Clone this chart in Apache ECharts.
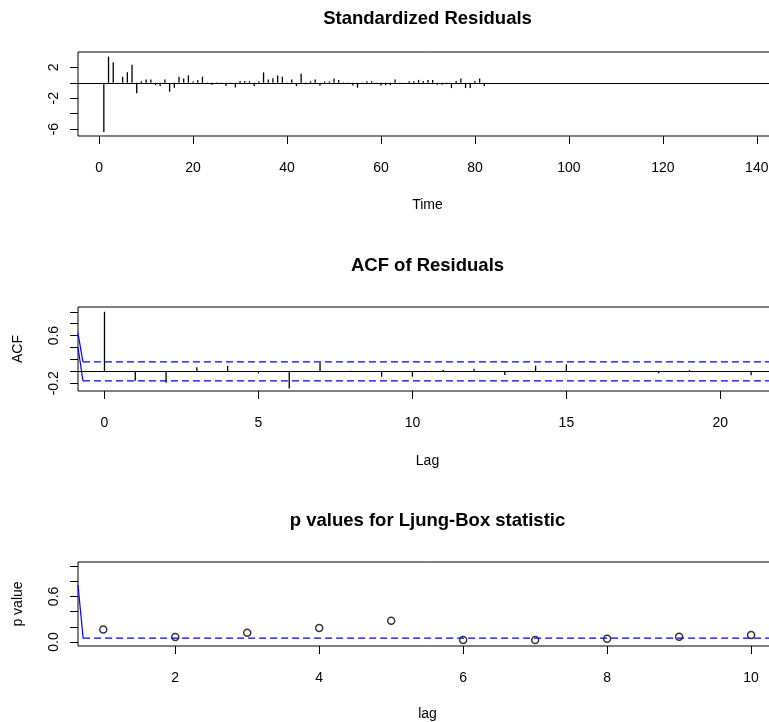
<!DOCTYPE html>
<html>
<head>
<meta charset="utf-8">
<script src="https://cdn.jsdelivr.net/npm/echarts@6/dist/echarts.min.js"></script>
<style>
  html, body { margin: 0; padding: 0; background: #fff; overflow: hidden; }
  #chart { width: 800px; height: 722px; }
</style>
</head>
<body>
<div id="chart"></div>
<script>
// Standardized residuals of the fitted model
const residTime = [1,2,3,4,5,6,7,8,9,10,11,12,13,14,15,16,17,18,19,20,21,22,23,24,25,26,27,28,29,30,
  31,32,33,34,35,36,37,38,39,40,41,42,43,44,45,46,47,48,49,50,51,52,53,54,55,56,57,58,59,60,
  61,62,63,64,65,66,67,68,69,70,71,72,73,74,75,76,77,78,79,80,81,82];
const residValues = [-6.38,3.4,2.68,0.05,0.77,1.36,2.34,-1.36,0.2,0.43,0.43,-0.3,-0.4,0.43,-1.15,-0.64,0.8,0.55,0.98,0.17,
  0.38,0.8,0.05,-0.25,0.05,-0.05,-0.42,0.05,-0.6,0.25,0.25,0.2,-0.42,0.2,1.36,0.43,0.6,0.94,0.8,0.05,
  0.43,-0.42,1.19,-0.2,0.2,0.43,-0.38,0.17,0.17,0.55,0.38,0.05,-0.05,-0.34,-0.64,0.05,0.2,0.2,0.05,-0.34,
  -0.3,-0.3,0.43,0.05,-0.05,0.2,0.2,0.38,0.25,0.38,0.38,-0.25,-0.25,0.05,-0.68,0.25,0.55,-0.68,-0.68,0.25,
  0.55,-0.42];

// Autocorrelation of the residuals
const acfLags = [0,1,2,3,4,5,6,7,8,9,10,11,12,13,14,15,16,17,18,19,20,21];
const acfValues = [1.0,-0.156,-0.19,0.067,0.089,-0.034,-0.29,0.15,0.01,-0.09,-0.09,0.022,0.045,-0.06,0.095,0.117,0.005,-0.005,-0.034,0.022,0.005,-0.067];
const acfBound = 0.16;

// Ljung-Box p values
const lbLags = [1,2,3,4,5,6,7,8,9,10];
const lbPValues = [0.163,0.066,0.123,0.185,0.281,0.026,0.026,0.044,0.07,0.092];
const lbLevel = 0.05;

// Tick and label positions
const timeTicks = [0,20,40,60,80,100,120,140];
const residYTicks = [-6,-4,-2,0,2];
const residYLabels = [-6,-2,2];
const acfXTicks = [0,5,10,15,20];
const acfYTicks = [-0.2,0,0.2,0.4,0.6,0.8,1.0];
const acfYLabels = [-0.2,0.6];
const lbXTicks = [2,4,6,8,10];
const lbYTicks = [0,0.2,0.4,0.6,0.8,1.0];
const lbYLabels = [0,0.6];

// Axis ranges
const timeRange = [-4.5, 144.3];
const residRange = [-6.9, 4.0];
const lagRange = [-0.86, 21.84];
const acfRange = [-0.33, 1.08];
const lbLagRange = [0.649, 10.36];
const pRange = [-0.053, 1.053];

// Blue lead-in strokes at the left edge of the bound lines
const acfLeadX = [-0.86, -0.70];
const acfLeadUpperY = [0.64, acfBound];
const acfLeadLowerY = [0.40, -acfBound];
const lbLeadX = [0.649, 0.72];
const lbLeadY = [0.75, lbLevel];

const FONT = '"Liberation Sans", Arial, sans-serif';
const BLUE = '#0000ff';
const PLOT_LEFT = 78, PLOT_RIGHT_EDGE = 777, CONTAINER_W = 800;
const centerX = (PLOT_LEFT + PLOT_RIGHT_EDGE) / 2;

function spikeItem(params, api) {
  const x = api.value(0), y = api.value(1);
  const p0 = api.coord([x, 0]);
  const p1 = api.coord([x, y]);
  return {
    type: 'line',
    shape: { x1: p0[0], y1: p0[1], x2: p1[0], y2: p1[1] },
    style: { stroke: '#000', lineWidth: 1.3 }
  };
}

function xAxisCfg(gridIndex, range, ticks, fmt) {
  return {
    gridIndex, type: 'value', position: 'bottom', min: range[0], max: range[1],
    axisLine: { show: false, onZero: false },
    splitLine: { show: false },
    axisTick: { show: true, customValues: ticks, length: 8, lineStyle: { color: '#000', width: 1 } },
    axisLabel: { show: true, customValues: ticks, margin: 25, fontSize: 14, color: '#000', fontFamily: FONT,
      formatter: fmt || (v => String(v)) }
  };
}
function yAxisCfg(gridIndex, range, ticks, labels, fmt) {
  return {
    gridIndex, type: 'value', position: 'left', min: range[0], max: range[1],
    axisLine: { show: false, onZero: false },
    splitLine: { show: false },
    axisTick: { show: true, customValues: ticks, length: 8, lineStyle: { color: '#000', width: 1 } },
    axisLabel: { show: true, customValues: labels, rotate: 90, margin: 17, fontSize: 14, color: '#000', fontFamily: FONT,
      formatter: fmt || (v => String(v)) }
  };
}

const gridBase = { left: PLOT_LEFT, right: CONTAINER_W - PLOT_RIGHT_EDGE, height: 84, show: true,
  borderColor: '#000', borderWidth: 1, backgroundColor: 'transparent', containLabel: false };

function boundLine(xIdx, yIdx, xs, ys, dashed) {
  return {
    type: 'line', xAxisIndex: xIdx, yAxisIndex: yIdx, symbol: 'none', silent: true,
    data: xs.map((x, i) => [x, ys[i]]),
    lineStyle: { color: BLUE, width: 1.2, type: dashed ? [7, 4] : 'solid' }
  };
}

const texts = [
  { t: 'Standardized Residuals', x: centerX, y: 19, bold: true, size: 18.5 },
  { t: 'Time', x: centerX, y: 205, size: 14 },
  { t: 'ACF of Residuals', x: centerX, y: 266, bold: true, size: 18.5 },
  { t: 'Lag', x: centerX, y: 461, size: 14 },
  { t: 'p values for Ljung-Box statistic', x: centerX, y: 521, bold: true, size: 18.5 },
  { t: 'lag', x: centerX, y: 714, size: 14 },
  { t: 'ACF', x: 18, y: 349, size: 14, rot: true },
  { t: 'p value', x: 18, y: 604, size: 14, rot: true }
];

const graphic = texts.map(o => ({
  type: 'text', x: o.x, y: o.y, rotation: o.rot ? Math.PI / 2 : 0, silent: true,
  style: { text: o.t, fill: '#000', font: (o.bold ? 'bold ' : '') + o.size + 'px ' + FONT,
    textAlign: 'center', textVerticalAlign: 'middle' }
}));

const chart = echarts.init(document.getElementById('chart'), null, { renderer: 'canvas' });
chart.setOption({
  animation: false,
  backgroundColor: '#fff',
  grid: [
    Object.assign({}, gridBase, { top: 52 }),
    Object.assign({}, gridBase, { top: 307 }),
    Object.assign({}, gridBase, { top: 562 })
  ],
  xAxis: [
    xAxisCfg(0, timeRange, timeTicks),
    xAxisCfg(1, lagRange, acfXTicks),
    xAxisCfg(2, lbLagRange, lbXTicks)
  ],
  yAxis: [
    yAxisCfg(0, residRange, residYTicks, residYLabels),
    yAxisCfg(1, acfRange, acfYTicks, acfYLabels, v => v.toFixed(1)),
    yAxisCfg(2, pRange, lbYTicks, lbYLabels, v => v.toFixed(1))
  ],
  graphic,
  series: [
    {
      type: 'custom', xAxisIndex: 0, yAxisIndex: 0, renderItem: spikeItem,
      data: residTime.map((t, i) => [t, residValues[i]]),
      markLine: { silent: true, symbol: 'none', label: { show: false },
        lineStyle: { color: '#000', width: 1, type: 'solid' }, data: [{ yAxis: 0 }] }
    },
    {
      type: 'custom', xAxisIndex: 1, yAxisIndex: 1, renderItem: spikeItem,
      data: acfLags.map((l, i) => [l, acfValues[i]]),
      markLine: { silent: true, symbol: 'none', label: { show: false },
        lineStyle: { color: '#000', width: 1, type: 'solid' }, data: [{ yAxis: 0 }] }
    },
    boundLine(1, 1, acfLeadX, acfLeadUpperY, false),
    boundLine(1, 1, acfLeadX, acfLeadLowerY, false),
    boundLine(1, 1, [acfLeadX[1], lagRange[1]], [acfBound, acfBound], true),
    boundLine(1, 1, [acfLeadX[1], lagRange[1]], [-acfBound, -acfBound], true),
    boundLine(2, 2, lbLeadX, lbLeadY, false),
    boundLine(2, 2, [lbLeadX[1], lbLagRange[1]], [lbLevel, lbLevel], true),
    {
      type: 'scatter', xAxisIndex: 2, yAxisIndex: 2, symbol: 'circle', symbolSize: 7,
      data: lbLags.map((l, i) => [l, lbPValues[i]]),
      itemStyle: { color: 'rgba(0,0,0,0)', borderColor: '#000', borderWidth: 1.5 }
    }
  ]
});
</script>
</body>
</html>
